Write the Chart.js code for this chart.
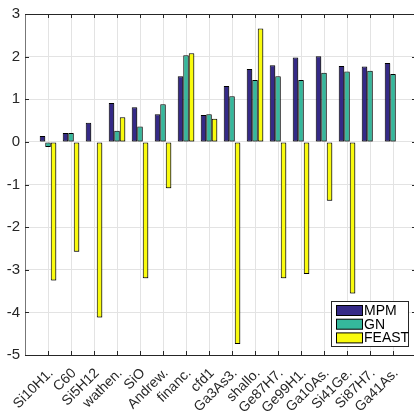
<!DOCTYPE html>
<html>
<head>
<meta charset="utf-8">
<script src="https://cdn.jsdelivr.net/npm/chart.js@4/dist/chart.umd.min.js"></script>
<style>
html,body{margin:0;padding:0;background:#fff;overflow:hidden;width:414px;height:411px;}
#wrap{position:absolute;left:0;top:0;width:430px;height:411px;}
</style>
</head>
<body>
<div id="wrap"><canvas id="c" width="430" height="411"></canvas></div>
<script>
const categories = ["Si10H1.","C60","Si5H12","wathen.","SiO","Andrew.","financ.","cfd1","Ga3As3.","shallo.","Ge87H7.","Ge99H1.","Ga10As.","Si41Ge.","Si87H7.","Ga41As."];
const mpm   = [0.14, 0.21, 0.45, 0.91, 0.81, 0.65, 1.54, 0.63, 1.31, 1.71, 1.80, 1.98, 2.01, 1.78, 1.77, 1.85];
const gn    = [-0.12, 0.21, null, 0.26, 0.36, 0.88, 2.03, 0.65, 1.07, 1.45, 1.54, 1.45, 1.62, 1.65, 1.67, 1.59];
const feast = [-3.25, -2.58, -4.12, 0.58, -3.20, -1.09, 2.08, 0.54, -4.74, 2.66, -3.20, -3.10, -1.38, -3.56, null, null];
const yTicks = [-5,-4,-3,-2,-1,0,1,2,3];
const seriesNames = ["MPM","GN","FEAST"];
const seriesColors = ["#352a87","#35b89c","#f9fb0e"];

const AX = "#262626";
const FONT = "'Liberation Sans', Arial, Helvetica, sans-serif";

function pts(arr){ return arr.map((v,i)=>({x:i+1,y:v})); }

const boxPlugin = {
  id:'boxPlugin',
  beforeDatasetsDraw(chart){
    const ctx = chart.ctx;
    ctx.save();
    ctx.shadowColor = 'rgba(0,0,0,0.3)';
    ctx.shadowOffsetX = 1; ctx.shadowOffsetY = 1; ctx.shadowBlur = 0;
  },
  afterDatasetsDraw(chart){
    const ctx = chart.ctx, a = chart.chartArea;
    ctx.restore();
    const xs = chart.scales.x, ys = chart.scales.y;
    ctx.save();
    ctx.strokeStyle = AX; ctx.lineWidth = 1;
    ctx.beginPath();
    ctx.moveTo(a.left, a.top+0.5); ctx.lineTo(a.right, a.top+0.5);
    ctx.moveTo(a.right-0.5, a.top); ctx.lineTo(a.right-0.5, a.bottom);
    const tl = 4;
    categories.forEach((c,i)=>{
      const px = Math.round(xs.getPixelForValue(i+1))+0.5;
      ctx.moveTo(px, a.bottom); ctx.lineTo(px, a.bottom-tl);
      ctx.moveTo(px, a.top); ctx.lineTo(px, a.top+tl);
    });
    yTicks.forEach(v=>{
      const py = Math.round(ys.getPixelForValue(v))+0.5;
      ctx.moveTo(a.left, py); ctx.lineTo(a.left+tl, py);
      ctx.moveTo(a.right, py); ctx.lineTo(a.right-tl, py);
    });
    ctx.stroke();
    const w = 77, h = 45;
    const lx = a.right - 8 - w, ly = a.bottom - 9 - h;
    ctx.fillStyle = '#fff';
    ctx.fillRect(lx, ly, w, h);
    ctx.strokeStyle = AX;
    ctx.strokeRect(lx+0.5, ly+0.5, w, h);
    ctx.font = "14px " + FONT;
    ctx.textBaseline = 'middle';
    seriesNames.forEach((n,i)=>{
      const ry = ly + 4 + i*13.7;
      ctx.fillStyle = seriesColors[i];
      ctx.fillRect(lx+5.5, ry+0.5, 26, 10);
      ctx.strokeStyle = '#000';
      ctx.strokeRect(lx+5.5, ry+0.5, 26, 10);
      ctx.fillStyle = '#000';
      ctx.fillText(n, lx+33, ry+6);
    });
    ctx.restore();
  }
};

new Chart(document.getElementById('c'), {
  type:'bar',
  data:{
    datasets:[
      {label:seriesNames[0], data:pts(mpm), backgroundColor:seriesColors[0], borderColor:'#000', borderWidth:1, borderSkipped:false},
      {label:seriesNames[1], data:pts(gn), backgroundColor:seriesColors[1], borderColor:'#000', borderWidth:1, borderSkipped:false},
      {label:seriesNames[2], data:pts(feast), backgroundColor:seriesColors[2], borderColor:'#000', borderWidth:1, borderSkipped:false}
    ]
  },
  options:{
    responsive:false,
    animation:false,
    devicePixelRatio:1,
    categoryPercentage:0.72,
    barPercentage:1.0,
    layout:{padding:{top:14,right:14,left:0,bottom:0}},
    plugins:{legend:{display:false}, tooltip:{enabled:false}},
    scales:{
      x:{
        type:'linear', min:0, max:17, offset:false,
        afterBuildTicks(s){ s.ticks = categories.map((c,i)=>({value:i+1})); },
        afterFit(s){ s.height = 56; s.paddingLeft = 0; s.paddingRight = 0; },
        grid:{color:'#e3e3e3', drawTicks:false, offset:false},
        border:{color:AX, width:1},
        ticks:{
          autoSkip:false, maxRotation:45, minRotation:45, padding:10, labelOffset:3,
          color:AX, font:{family:FONT, size:14},
          callback(v){ return categories[v-1] || ''; }
        }
      },
      y:{
        min:-5, max:3,
        afterBuildTicks(s){ s.ticks = yTicks.map(v=>({value:v})); },
        afterFit(s){ s.width = 25; },
        grid:{color:'#e3e3e3', drawTicks:false},
        border:{color:'#777', width:1},
        ticks:{padding:5, color:AX, font:{family:FONT, size:15}}
      }
    }
  },
  plugins:[boxPlugin]
});
</script>
</body>
</html>
